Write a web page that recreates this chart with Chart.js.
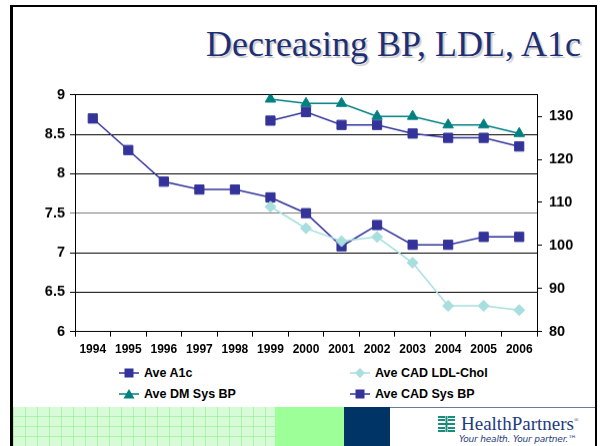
<!DOCTYPE html>
<html>
<head>
<meta charset="utf-8">
<script src="https://cdn.jsdelivr.net/npm/chart.js@4.4.1/dist/chart.umd.min.js"></script>
<style>
  html, body { margin:0; padding:0; background:#fff; }
  body { width:600px; height:446px; position:relative; overflow:hidden; font-family:"Liberation Sans", Arial, sans-serif; }
  .abs { position:absolute; }
  #title { right:19px; top:26px; font-family:"Liberation Serif","Times New Roman",serif; font-size:36px; line-height:36px; color:#1f2f74; text-shadow:2px 2px 1px rgba(0,0,0,0.2); white-space:nowrap; }
  #chartBox { left:0; top:85px; width:600px; height:275px; }
  .leg { position:absolute; font-weight:bold; font-size:12.5px; color:#000; white-space:nowrap; line-height:14px; }
  .legsvg { position:absolute; }
  #grid { left:13px; top:407px; width:262px; height:40px; background-color:#d6fbd6;
    background-image: repeating-linear-gradient(90deg, rgba(130,235,130,0.5) 0 1px, transparent 1px 12px),
                      repeating-linear-gradient(0deg, rgba(130,235,130,0.5) 0 1px, transparent 1px 10px); }
  #green { left:275px; top:407px; width:69px; height:40px; background:#9cff98; }
  #navy { left:344px; top:407px; width:46px; height:40px; background:#003366; }
  #hline { left:390px; top:407px; width:205px; height:1px; background:#6a7a98; }
  #logo { left:461px; top:413px; font-family:"Liberation Serif","Times New Roman",serif; font-size:19px; color:#1e3c7e; white-space:nowrap; }
  #logo sup { font-size:6px; vertical-align:8px; }
  #tag { left:459px; top:434px; font-family:"DejaVu Sans", sans-serif; font-style:italic; font-size:9px; color:#1e3c7e; white-space:nowrap; letter-spacing:-0.2px; }
</style>
</head>
<body>
<div class="abs" style="left:10px;top:5px;width:587px;height:2px;background:#000"></div>
<div class="abs" style="left:10px;top:5px;width:3px;height:441px;background:#000"></div>
<div class="abs" style="left:595px;top:5px;width:2px;height:441px;background:#000"></div>

<div id="title" class="abs">Decreasing BP, LDL, A1c</div>

<div id="chartBox" class="abs"><canvas id="c"></canvas></div>

<div id="legend"></div>

<div id="grid" class="abs"></div>
<div id="green" class="abs"></div>
<div id="navy" class="abs"></div>
<div id="hline" class="abs"></div>
<svg class="abs" style="left:438px;top:416px" width="17" height="16" viewBox="0 0 17 16">
  <g fill="#1a8c7c">
    <rect x="0" y="0" width="7" height="2"/><rect x="10" y="0" width="7" height="2"/>
    <rect x="0" y="3" width="7" height="2"/><rect x="10" y="3" width="7" height="2"/>
    <rect x="7.5" y="0" width="2" height="7"/>
    <rect x="0" y="7" width="17" height="2"/>
    <rect x="7.5" y="9" width="2" height="7"/>
    <rect x="0" y="11" width="7" height="2"/><rect x="10" y="11" width="7" height="2"/>
    <rect x="0" y="14" width="7" height="2"/><rect x="10" y="14" width="7" height="2"/>
  </g>
</svg>
<div id="logo" class="abs">HealthPartners<sup>&reg;</sup></div>
<div id="tag" class="abs">Your health. Your partner.&trade;</div>

<script>
const years = ['1994','1995','1996','1997','1998','1999','2000','2001','2002','2003','2004','2005','2006'];
const aveA1c = [8.7, 8.3, 7.9, 7.8, 7.8, 7.7, 7.5, 7.08, 7.35, 7.1, 7.1, 7.2, 7.2];
const aveCadLdl = [null, null, null, null, null, 109, 104, 101, 102, 96, 86, 86, 85];
const aveDmSysBp = [null, null, null, null, null, 134, 133, 133, 130, 130, 128, 128, 126];
const aveCadSysBp = [null, null, null, null, null, 129, 131, 128, 128, 126, 125, 125, 123];
const leftTicks = [6, 6.5, 7, 7.5, 8, 8.5, 9];
const rightTicks = [80, 90, 100, 110, 120, 130];
const seriesNames = ['Ave A1c', 'Ave CAD LDL-Chol', 'Ave DM Sys BP', 'Ave CAD Sys BP'];

const NAVY = '#333399', TEAL = '#008080', PALE = '#a8dede';

const ctx = document.getElementById('c');
const chart = new Chart(ctx, {
  type: 'line',
  data: {
    labels: years,
    datasets: [
      { label: seriesNames[0], data: aveA1c, yAxisID: 'yL', borderColor: NAVY, backgroundColor: NAVY,
        borderWidth: 1.5, pointStyle: 'rect', pointRadius: 6.5, pointBorderWidth: 1, pointBorderColor: NAVY, order: 3 },
      { label: seriesNames[1], data: aveCadLdl, yAxisID: 'yR', borderColor: PALE, backgroundColor: PALE,
        borderWidth: 1.5, pointStyle: 'rectRot', pointRadius: 5.5, pointBorderWidth: 1, pointBorderColor: PALE, order: 1 },
      { label: seriesNames[2], data: aveDmSysBp, yAxisID: 'yR', borderColor: TEAL, backgroundColor: TEAL,
        borderWidth: 1.5, pointStyle: 'triangle', pointRadius: 6, pointBorderWidth: 1, pointBorderColor: TEAL, order: 2 },
      { label: seriesNames[3], data: aveCadSysBp, yAxisID: 'yR', borderColor: NAVY, backgroundColor: NAVY,
        borderWidth: 1.5, pointStyle: 'rect', pointRadius: 6.5, pointBorderWidth: 1, pointBorderColor: NAVY, order: 0 }
    ]
  },
  options: {
    responsive: true,
    maintainAspectRatio: false,
    animation: false,
    spanGaps: false,
    layout: { padding: { top: 0, left: 0, right: 0, bottom: 0 } },
    plugins: { legend: { display: false }, tooltip: { enabled: false }, title: { display: false } },
    scales: {
      x: {
        type: 'category',
        offset: true,
        grid: { offset: true, drawOnChartArea: false, drawTicks: true, tickLength: 5, color: '#000', lineWidth: 1 },
        border: { display: true, color: '#000', width: 1 },
        ticks: { color: '#000', font: { family: 'Liberation Sans', size: 12, weight: 'bold' }, padding: 6, maxRotation: 0, autoSkip: false },
        afterFit(s) { s.height = 29; }
      },
      yL: {
        position: 'left',
        min: 6, max: 9,
        afterBuildTicks(s) { s.ticks = leftTicks.map(v => ({ value: v })); },
        grid: { drawOnChartArea: true, drawTicks: true, tickLength: 5,
          color: (c) => (c.tick && c.tick.value === 7.5) ? '#7a7a7a' : '#000', lineWidth: 1 },
        border: { display: true, color: '#000', width: 1 },
        ticks: { color: '#000', font: { family: 'Liberation Sans', size: 14.5, weight: 'bold' }, padding: 5,
          callback: (v) => String(v) },
        afterFit(s) { s.width = 75; }
      },
      yR: {
        position: 'right',
        min: 80, max: 135,
        afterBuildTicks(s) { s.ticks = rightTicks.map(v => ({ value: v })); },
        grid: { drawOnChartArea: false, drawTicks: true, tickLength: 5, color: '#000', lineWidth: 1 },
        border: { display: true, color: '#000', width: 1 },
        ticks: { color: '#000', font: { family: 'Liberation Sans', size: 14.5, weight: 'bold' }, padding: 7 },
        afterFit(s) { s.width = 63; }
      }
    }
  }
});

// Align the plot area with the slide: top edge at y=95, bottom edge at y=331
(function align() {
  const box = document.getElementById('chartBox');
  const a = chart.chartArea.top;
  const T = 95 - a;
  box.style.top = T + 'px';
  box.style.height = (331 + 29 - T) + 'px';
  chart.resize();
})();

// HTML legend (2 columns)
const legendDefs = [
  { name: seriesNames[0], color: NAVY, shape: 'square', x: 119, y: 373 },
  { name: seriesNames[1], color: PALE, shape: 'diamond', x: 350, y: 373 },
  { name: seriesNames[2], color: TEAL, shape: 'triangle', x: 119, y: 394 },
  { name: seriesNames[3], color: NAVY, shape: 'square', x: 350, y: 394 }
];
const legend = document.getElementById('legend');
legendDefs.forEach(d => {
  let mark = '';
  if (d.shape === 'square') mark = `<rect x="5.5" y="1.5" width="9" height="9" fill="${d.color}"/>`;
  if (d.shape === 'diamond') mark = `<polygon points="10,1 15,6 10,11 5,6" fill="${d.color}"/>`;
  if (d.shape === 'triangle') mark = `<polygon points="10,1 15.5,10.5 4.5,10.5" fill="${d.color}"/>`;
  const svg = `<svg class="legsvg" style="left:${d.x}px;top:${d.y - 6}px" width="20" height="12" viewBox="0 0 20 12">
    <line x1="0" y1="6" x2="20" y2="6" stroke="${d.color}" stroke-width="1.5"/>${mark}</svg>`;
  const txt = `<div class="leg" style="left:${d.x + 25}px;top:${d.y - 7}px">${d.name}</div>`;
  legend.insertAdjacentHTML('beforeend', svg + txt);
});
</script>
</body>
</html>
